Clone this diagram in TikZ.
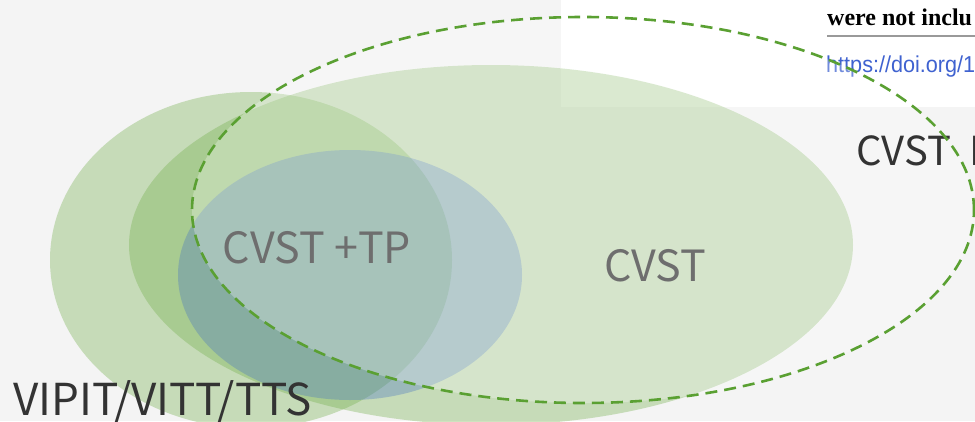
\documentclass[tikz,border=0pt]{standalone}
\usepackage{fontspec}
\usetikzlibrary{shapes.geometric}
\newfontfamily\labelfont{Noto Sans CJK SC}
\newfontfamily\excerptfont{Liberation Serif}
\newfontfamily\linkfont{Liberation Sans}
\definecolor{pagebg}{HTML}{F4F4F4}
\definecolor{setgreen}{HTML}{70AD47}
\definecolor{setblue}{HTML}{4472C4}
\definecolor{dashgreen}{HTML}{5AA032}
\definecolor{labelgray}{HTML}{6E6E6E}
\definecolor{labeldark}{HTML}{333333}
\definecolor{linkblue}{HTML}{3F62D0}
\tikzset{
  setarea/.style={ellipse, inner sep=0pt, draw=none},
  greenset/.style={setarea, fill=setgreen, fill opacity=0.345},
  blueset/.style={setarea, fill=setblue, fill opacity=0.33},
  innerlabel/.style={font=\labelfont\fontsize{43}{48}\selectfont, text=labelgray, inner sep=0pt},
  outerlabel/.style={text=labeldark, inner sep=0pt, anchor=base west},
}
\begin{document}
\begin{tikzpicture}[x=1pt, y=-1pt]
\useasboundingbox (0,0) rectangle (975,421);
\clip (0,0) rectangle (975,421);
% page backdrop and the white excerpt panel
\fill[pagebg] (0,0) rectangle (975,421);
\fill[white] (561,0) rectangle (975,107);
\node[anchor=base west, inner sep=0pt, font=\excerptfont\bfseries\fontsize{24}{28}\selectfont] (excerpt) at (827,25) {were not inclu};
\coordinate (rule-l) at (827,36);
\coordinate (rule-r) at (975,36);
\draw[gray!80, line width=1.8pt] (rule-l) -- (rule-r);
\node[anchor=base west, inner sep=0pt, text=linkblue, font=\linkfont\fontsize{23}{26}\selectfont] (doi) at (826,72) {\scalebox{0.94}[1]{https://doi.org/1}};
% the sets
\node[greenset, minimum width=402pt, minimum height=336pt] (vipit) at (251,260) {};
\node[greenset, minimum width=724pt, minimum height=360pt] (cvst) at (491,245) {};
\node[blueset, minimum width=344pt, minimum height=250pt] (cvsttp) at (350,275) {};
% wider CVST outline: light veil inside, dashed border on top
\node[setarea, fill=white, fill opacity=0.27, minimum width=782pt, minimum height=386pt] (cvstveil) at (583,210) {};
% labels
\node[innerlabel] (tp-label) at (317,248) {CVST +TP};
\node[innerlabel] (cvst-label) at (655,266) {CVST};
\node[outerlabel, font=\labelfont\fontsize{40}{45}\selectfont] (wide-label) at (856,165) {CVST\hspace{10pt} I};
\node[outerlabel, font=\labelfont\fontsize{44}{49}\selectfont] (vipit-label) at (13,415) {VIPIT/VITT/TTS};
\node[setarea, draw=dashgreen, line width=2.6pt, dash pattern=on 12pt off 7pt, minimum width=782pt, minimum height=386pt] (cvstwide) at (583,210) {};
\end{tikzpicture}
\end{document}
